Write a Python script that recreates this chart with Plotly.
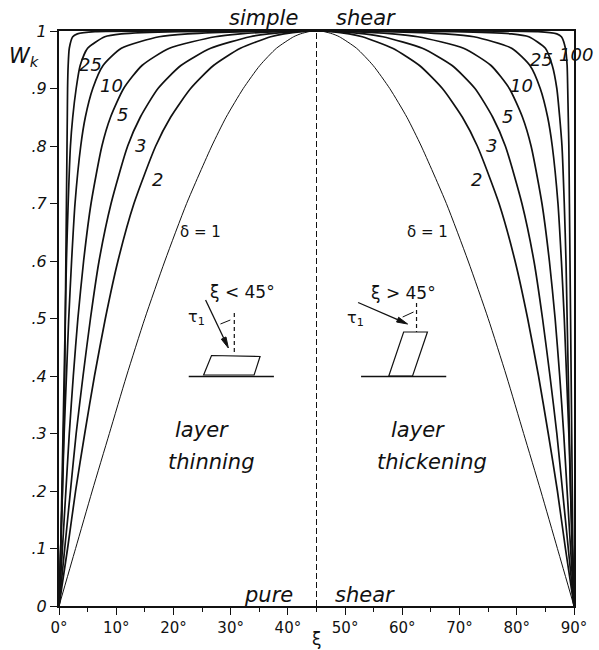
import math
import plotly.graph_objects as go

# ---------------- data ----------------
# Wk levels along the left (layer thinning, xi < 45 deg) branch
wk_left = [0, 0.1, 0.2, 0.3, 0.4, 0.5, 0.6, 0.7, 0.8, 0.85, 0.9, 0.94, 0.97, 0.99, 0.995, 0.999, 1.0]
# Wk levels along the right (layer thickening, xi > 45 deg) branch
wk_right = [1.0, 0.999, 0.995, 0.99, 0.97, 0.94, 0.9, 0.85, 0.8, 0.7, 0.6, 0.5, 0.4, 0.3, 0.2, 0.1, 0]

deltas = ["1", "2", "3", "5", "10", "25", "100"]

xi_left_d1 = [0, 2.9, 5.8, 8.8, 11.8, 15.0, 18.5, 22.3, 26.7, 29.2, 32.2, 35.1, 38.0, 41.0, 42.2, 43.7, 45]
xi_left_d2 = [0, 1.5, 2.9, 4.5, 6.2, 8.1, 10.3, 13.1, 16.9, 19.5, 23.0, 27.0, 31.7, 37.0, 39.3, 42.4, 45]
xi_left_d3 = [0, 1.0, 2.0, 3.0, 4.2, 5.5, 7.0, 9.1, 12.0, 14.2, 17.3, 21.3, 26.5, 33.4, 36.6, 41.2, 45]
xi_left_d5 = [0, 0.6, 1.2, 1.8, 2.5, 3.3, 4.3, 5.6, 7.5, 9.0, 11.3, 14.5, 19.3, 27.3, 31.7, 38.7, 45]
xi_left_d10 = [0, 0.3, 0.6, 0.9, 1.3, 1.7, 2.2, 2.8, 3.8, 4.6, 5.9, 7.7, 10.9, 17.5, 22.5, 32.9, 45]
xi_left_d25 = [0, 0.3, 0.5, 0.7, 0.9, 1.1, 1.3, 1.6, 2.0, 2.4, 3.0, 3.7, 5.0, 8.0, 10.9, 20.9, 45]
xi_left_d100 = [0, 0.3, 0.6, 0.8, 1.0, 1.1, 1.2, 1.3, 1.4, 1.45, 1.5, 1.6, 1.8, 2.4, 3.2, 6.3, 45]

xi_right_d1 = [45, 46.3, 47.8, 49.0, 52.0, 54.9, 57.8, 60.8, 63.3, 67.7, 71.5, 75.0, 78.2, 81.2, 84.2, 87.1, 90]
xi_right_d2 = [45, 47.6, 50.7, 53.0, 58.3, 63.0, 67.0, 70.5, 73.1, 76.9, 79.7, 81.9, 83.8, 85.5, 87.1, 88.5, 90]
xi_right_d3 = [45, 48.8, 53.4, 56.6, 63.5, 68.7, 72.7, 75.8, 78.0, 80.9, 83.0, 84.5, 85.8, 87.0, 88.0, 89.0, 90]
xi_right_d5 = [45, 51.3, 58.3, 62.7, 70.7, 75.5, 78.7, 81.0, 82.5, 84.4, 85.7, 86.7, 87.5, 88.2, 88.8, 89.4, 90]
xi_right_d10 = [45, 57.1, 67.5, 72.5, 79.1, 82.3, 84.1, 85.4, 86.2, 87.2, 87.8, 88.3, 88.7, 89.1, 89.4, 89.7, 90]
xi_right_d25 = [45, 69.1, 79.1, 82.1, 85.0, 86.2, 87.0, 87.5, 87.9, 88.3, 88.6, 88.8, 89.0, 89.2, 89.4, 89.7, 90]
xi_right_d100 = [45, 83.7, 87.0, 87.8, 88.5, 88.8, 88.9, 89.0, 89.1, 89.2, 89.3, 89.4, 89.5, 89.6, 89.7, 89.8, 90]

x_ticks = [0, 10, 20, 30, 40, 50, 60, 70, 80, 90]
x_ticktext = ["0°", "10°", "20°", "30°", "40°", "50°", "60°", "70°", "80°", "90°"]
y_ticks = [0, 0.1, 0.2, 0.3, 0.4, 0.5, 0.6, 0.7, 0.8, 0.9, 1.0]
y_ticktext = ["0", ".1", ".2", ".3", ".4", ".5", ".6", ".7", ".8", ".9", "1"]

curves = {
    "1": (xi_left_d1, xi_right_d1),
    "2": (xi_left_d2, xi_right_d2),
    "3": (xi_left_d3, xi_right_d3),
    "5": (xi_left_d5, xi_right_d5),
    "10": (xi_left_d10, xi_right_d10),
    "25": (xi_left_d25, xi_right_d25),
    "100": (xi_left_d100, xi_right_d100),
}

# ---------------- geometry helpers (pixel -> data / paper) ----------------
W, H = 599, 650
ML, MR, MT, MB = 59, 20, 31, 44
PX0, PX1 = ML, W - MR
PY0, PY1 = H - MB, MT


def dx(px):
    return (px - PX0) / (PX1 - PX0) * 90.0


def dy(py):
    return (PY0 - py) / (PY0 - PY1)


def pxp(px):
    return (px - PX0) / (PX1 - PX0)


def pyp(py):
    return (PY0 - py) / (PY0 - PY1)


FONT = "DejaVu Sans"
BLACK = "#111111"

fig = go.Figure()

for d in deltas:
    left, right = curves[d]
    xs = list(left) + list(right[1:])
    ys = list(wk_left) + list(wk_right[1:])
    fig.add_trace(go.Scatter(
        x=xs, y=ys, mode="lines",
        line=dict(color=BLACK, width=1.0 if d == "1" else 1.7, shape="spline", smoothing=0.6),
        name="δ = " + d, showlegend=False, hoverinfo="skip",
    ))

shapes = []
# central dashed line (xi = 45)
shapes.append(dict(type="line", xref="x", yref="y", x0=45, x1=45, y0=0, y1=1,
                   line=dict(color=BLACK, width=1, dash="6px,3px")))


def seg(x0, y0, x1, y1, w=1.2, dash=None):
    ln = dict(color=BLACK, width=w)
    if dash:
        ln["dash"] = dash
    shapes.append(dict(type="line", xref="x", yref="y",
                       x0=dx(x0), y0=dy(y0), x1=dx(x1), y1=dy(y1), line=ln))


def poly(pts, w=1.2, fill=None):
    path = "M " + " L ".join(f"{dx(px)},{dy(py)}" for px, py in pts) + " Z"
    sh = dict(type="path", xref="x", yref="y", path=path, line=dict(color=BLACK, width=w))
    if fill:
        sh["fillcolor"] = fill
    shapes.append(sh)


def arrow(tx, ty, hx, hy, head_len=11, half_w=2.6):
    vx, vy = hx - tx, hy - ty
    n = math.hypot(vx, vy)
    ux, uy = vx / n, vy / n
    bx, by = hx - head_len * ux, hy - head_len * uy
    seg(tx, ty, bx, by, 1.3)
    poly([(hx, hy), (bx - half_w * uy, by + half_w * ux), (bx + half_w * uy, by - half_w * ux)],
         w=1, fill=BLACK)


# left inset (layer thinning)
seg(190, 376.5, 276, 376.5, 1.6)
poly([(205, 375), (213, 355.5), (262, 356.5), (256, 375)])
seg(236, 313, 236, 354, 1.2, "4px,3px")
seg(222, 324, 232, 320, 1.0)
arrow(207, 300, 230, 348)
# right inset (layer thickening)
seg(364, 376.5, 450, 376.5, 1.6)
poly([(392, 376), (407, 332), (431, 332), (416, 376)])
seg(420, 303, 420, 332, 1.2, "4px,3px")
seg(406, 317, 417, 312, 1.0)
arrow(361, 302.5, 411, 324)

annotations = []


def txt(s, px, py, size, italic=True):
    annotations.append(dict(
        text=s, x=pxp(px), y=pyp(py), xref="paper", yref="paper", showarrow=False,
        xanchor="center", yanchor="middle",
        font=dict(family=FONT, size=size, color=BLACK, style="italic" if italic else "normal"),
    ))


# curve labels
txt("25", 91, 64, 18)
txt("10", 112, 85, 18)
txt("5", 123, 115, 18)
txt("3", 141, 145, 18)
txt("2", 158, 180, 18)
txt("δ = 1", 202, 232, 15, italic=False)
txt("100", 581, 54, 18)
txt("25", 546, 60, 18)
txt("10", 526, 85, 18)
txt("5", 512, 116, 18)
txt("3", 496, 145, 18)
txt("2", 481, 180, 18)
txt("δ = 1", 431, 232, 15, italic=False)

# region texts
txt("simple", 265, 18, 21)
txt("shear", 369, 18, 21)
txt("pure", 271, 595, 21)
txt("shear", 368, 595, 21)
txt("layer", 203, 430, 21)
txt("thinning", 212, 462, 21)
txt("layer", 421, 430, 21)
txt("thickening", 436, 462, 21)

# inset texts
txt("ξ < 45°", 244, 292, 17, italic=False)
txt("τ<sub>1</sub>", 198, 317, 16, italic=False)
txt("ξ > 45°", 407, 293, 17, italic=False)
txt("τ<sub>1</sub>", 358, 318, 16, italic=False)

# axis captions
txt("W<sub>k</sub>", 24, 57, 21)
txt("ξ", 319, 639, 17, italic=False)

fig.update_layout(
    width=W, height=H,
    margin=dict(l=ML, r=MR, t=MT, b=MB, pad=0),
    paper_bgcolor="white", plot_bgcolor="white",
    showlegend=False,
    shapes=shapes, annotations=annotations,
    xaxis=dict(range=[0, 90], tickvals=x_ticks, ticktext=x_ticktext,
               showgrid=False, zeroline=False, showline=True, linecolor=BLACK, linewidth=1.6,
               mirror=True, ticks="outside", ticklen=7, tickwidth=1.4, tickcolor=BLACK,
               minor=dict(ticks="outside", dtick=5, ticklen=4, tickwidth=1.2, tickcolor=BLACK),
               tickfont=dict(family=FONT, size=15, color=BLACK)),
    yaxis=dict(range=[0, 1], tickvals=y_ticks, ticktext=y_ticktext,
               showgrid=False, zeroline=False, showline=True, linecolor=BLACK, linewidth=2,
               mirror=True, ticks="outside", ticklen=7, tickwidth=1.4, tickcolor=BLACK,
               tickfont=dict(family=FONT, size=16, color=BLACK, style="italic")),
)

fig.write_html("out.html")
